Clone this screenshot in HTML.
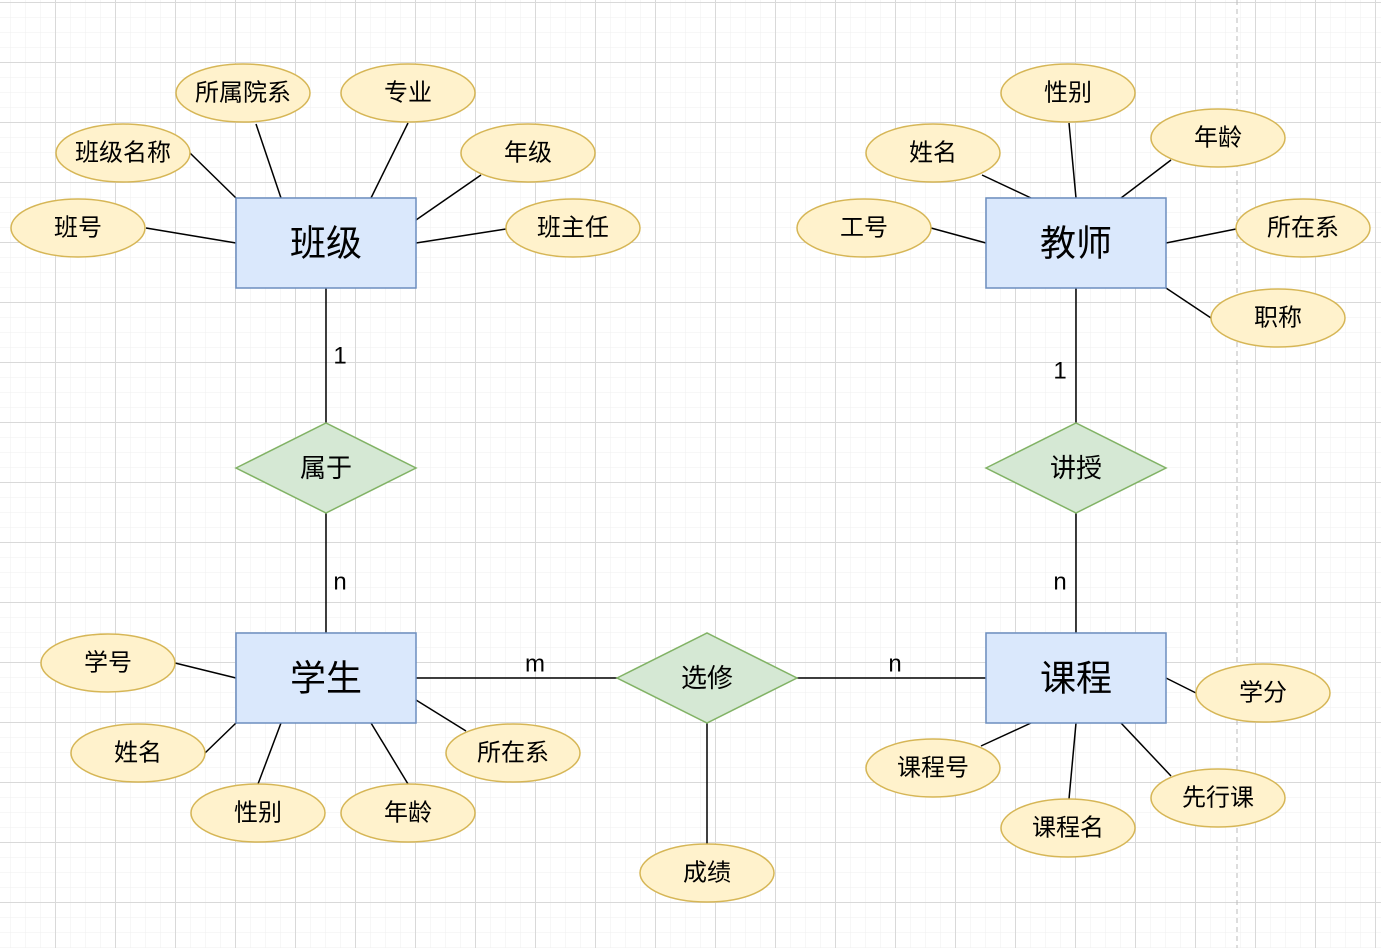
<!DOCTYPE html>
<html><head><meta charset="utf-8"><style>
html,body{margin:0;padding:0;background:#fff;}
svg{display:block}
text{font-family:"Liberation Sans","Noto Sans CJK SC",sans-serif;fill:#000;text-anchor:middle;dominant-baseline:central}
</style></head><body>
<svg width="1381" height="948" xmlns="http://www.w3.org/2000/svg">
<defs>
<pattern id="mi" width="15" height="15" patternUnits="userSpaceOnUse" x="-5" y="2"><path d="M0 0H15M0 0V15" stroke="#efefef" stroke-width="1" fill="none"/></pattern>
<pattern id="ma" width="60" height="60" patternUnits="userSpaceOnUse" x="55" y="2"><path d="M0 0.5H60M0.5 0V60" stroke="#d9d9d9" stroke-width="1" fill="none"/></pattern>
</defs>
<rect width="1381" height="948" fill="url(#mi)"/>
<rect width="1381" height="948" fill="url(#ma)"/>
<line x1="1237" y1="0" x2="1237" y2="948" stroke="#bbb" stroke-dasharray="5,4"/>
<g stroke="#000" stroke-width="1.5">
<line x1="326" y1="288" x2="326" y2="423"/><line x1="326" y1="513" x2="326" y2="633"/>
<line x1="1076" y1="288" x2="1076" y2="423"/><line x1="1076" y1="513" x2="1076" y2="633"/>
<line x1="416" y1="678" x2="617" y2="678"/><line x1="797" y1="678" x2="986" y2="678"/>
<line x1="707" y1="723" x2="707" y2="844"/>
<line x1="256" y1="124" x2="281" y2="198"/><line x1="408" y1="123" x2="371" y2="198"/>
<line x1="190" y1="153" x2="236" y2="198"/><line x1="481" y1="175" x2="416" y2="220"/>
<line x1="146" y1="228" x2="236" y2="243"/><line x1="506" y1="229" x2="416" y2="243"/>
<line x1="1069" y1="123" x2="1076" y2="198"/><line x1="982" y1="175" x2="1031" y2="198"/>
<line x1="1171" y1="160" x2="1121" y2="198"/><line x1="931" y1="228" x2="986" y2="243"/>
<line x1="1236" y1="229" x2="1166" y2="243"/><line x1="1211" y1="318" x2="1166" y2="288"/>
<line x1="175" y1="663" x2="236" y2="678"/><line x1="205" y1="753" x2="236" y2="723"/>
<line x1="258" y1="784" x2="281" y2="723"/><line x1="408" y1="784" x2="371" y2="723"/>
<line x1="466" y1="731" x2="416" y2="700"/>
<line x1="1196" y1="693" x2="1166" y2="678"/><line x1="981" y1="746" x2="1031" y2="723"/>
<line x1="1069" y1="799" x2="1076" y2="723"/><line x1="1171" y1="776" x2="1121" y2="723"/>
</g>
<g fill="#dae8fc" stroke="#6c8ebf" stroke-width="1.5">
<rect x="236" y="198" width="180" height="90"/><rect x="986" y="198" width="180" height="90"/>
<rect x="236" y="633" width="180" height="90"/><rect x="986" y="633" width="180" height="90"/>
</g>
<g fill="#d5e8d4" stroke="#82b366" stroke-width="1.5">
<polygon points="236,468 326,423 416,468 326,513"/>
<polygon points="986,468 1076,423 1166,468 1076,513"/>
<polygon points="617,678 707,633 797,678 707,723"/>
</g>
<g fill="#fff2cc" stroke="#d6b656" stroke-width="1.5">
<ellipse cx="243" cy="93" rx="67" ry="29"/><ellipse cx="408" cy="93" rx="67" ry="29"/>
<ellipse cx="123" cy="153" rx="67" ry="29"/><ellipse cx="528" cy="153" rx="67" ry="29"/>
<ellipse cx="78" cy="228" rx="67" ry="29"/><ellipse cx="573" cy="228" rx="67" ry="29"/>
<ellipse cx="1068" cy="93" rx="67" ry="29"/><ellipse cx="933" cy="153" rx="67" ry="29"/>
<ellipse cx="1218" cy="138" rx="67" ry="29"/><ellipse cx="864" cy="228" rx="67" ry="29"/>
<ellipse cx="1303" cy="228" rx="67" ry="29"/><ellipse cx="1278" cy="318" rx="67" ry="29"/>
<ellipse cx="108" cy="663" rx="67" ry="29"/><ellipse cx="138" cy="753" rx="67" ry="29"/>
<ellipse cx="258" cy="813" rx="67" ry="29"/><ellipse cx="408" cy="813" rx="67" ry="29"/>
<ellipse cx="513" cy="753" rx="67" ry="29"/>
<ellipse cx="1263" cy="693" rx="67" ry="29"/><ellipse cx="933" cy="768" rx="67" ry="29"/>
<ellipse cx="1068" cy="828" rx="67" ry="29"/><ellipse cx="1218" cy="798" rx="67" ry="29"/>
<ellipse cx="707" cy="873" rx="67" ry="29"/>
</g>
<g font-size="36">
<text x="326" y="243">班级</text><text x="1076" y="243">教师</text>
<text x="326" y="678">学生</text><text x="1076" y="678">课程</text>
</g>
<g font-size="26">
<text x="326" y="468">属于</text><text x="1076" y="468">讲授</text><text x="707" y="678">选修</text>
</g>
<g font-size="24">
<text x="243" y="93">所属院系</text><text x="408" y="93">专业</text>
<text x="123" y="153">班级名称</text><text x="528" y="153">年级</text>
<text x="78" y="228">班号</text><text x="573" y="228">班主任</text>
<text x="1068" y="93">性别</text><text x="933" y="153">姓名</text>
<text x="1218" y="138">年龄</text><text x="864" y="228">工号</text>
<text x="1303" y="228">所在系</text><text x="1278" y="318">职称</text>
<text x="108" y="663">学号</text><text x="138" y="753">姓名</text>
<text x="258" y="813">性别</text><text x="408" y="813">年龄</text>
<text x="513" y="753">所在系</text>
<text x="1263" y="693">学分</text><text x="933" y="768">课程号</text>
<text x="1068" y="828">课程名</text><text x="1218" y="798">先行课</text>
<text x="707" y="873">成绩</text>
<text x="340" y="356">1</text><text x="340" y="582">n</text>
<text x="535" y="664">m</text><text x="895" y="664">n</text>
<text x="1060" y="371">1</text><text x="1060" y="582">n</text>
</g>
</svg>
</body></html>
